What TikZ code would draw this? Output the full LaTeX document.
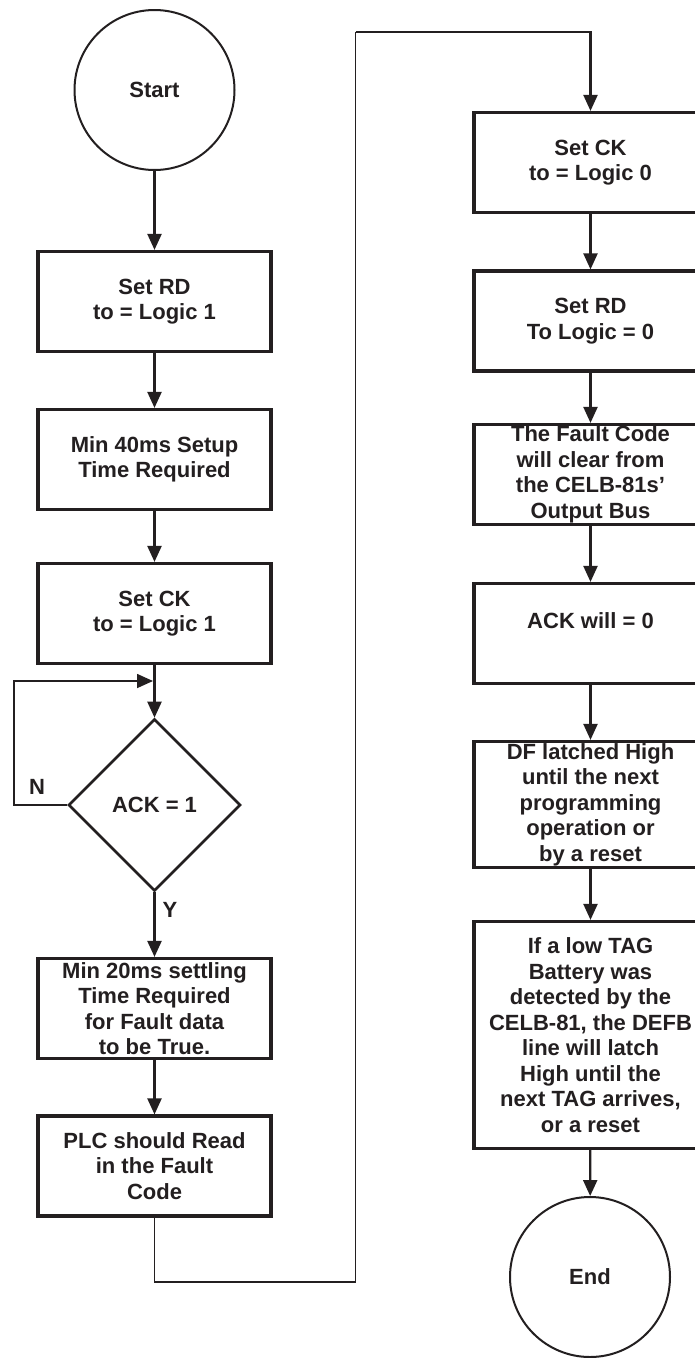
\documentclass[tikz,border=0pt]{standalone}
\usepackage{fontspec}
\setmainfont{Liberation Sans}
\usetikzlibrary{arrows.meta,shapes.geometric}
\newcommand{\fcfont}{\fontsize{22}{25.5}\selectfont\bfseries}
\definecolor{ink}{RGB}{35,31,32}
\begin{document}
\begin{tikzpicture}[x=1pt,y=-1pt, color=ink,
  stepbox/.style={draw, line width=3.2pt, minimum width=233pt, minimum height=100pt, inner sep=0pt, align=center, font=\fcfont},
  term/.style={circle, draw, line width=2pt, minimum size=160pt, inner sep=0pt, font=\fcfont},
  decide/.style={diamond, draw, line width=2.6pt, minimum width=172pt, minimum height=172pt, inner sep=0pt, font=\fcfont},
  tip/.style={-{Triangle[length=16pt,width=14pt]}},
  arr/.style={line width=2.2pt, tip},
  conn/.style={line width=1.6pt},
  lbl/.style={font=\fcfont, inner sep=0pt}]
\useasboundingbox (0,0) rectangle (695,1358);
\clip (0,0) rectangle (695,1358);
\fill[white] (0,0) rectangle (695,1358);
% left column
\node[term] (start) at (154.5,90) {Start};
\node[stepbox] (b1) at (154.5,301.5) {Set RD\\to = Logic 1};
\node[stepbox] (b2) at (154.5,459.5) {Min 40ms Setup\\Time Required};
\node[stepbox] (b3) at (154.5,613.5) {Set CK\\to = Logic 1};
\node[decide] (d) at (154.5,805) {ACK = 1};
\node[stepbox] (b4) at (154.5,1008.5) {Min 20ms settling\\Time Required\\for Fault data\\to be True.};
\node[stepbox] (b5) at (154.5,1166) {PLC should Read\\in the Fault\\Code};
% right column
\node[stepbox] (r1) at (590.5,162.5) {Set CK\\to = Logic 0};
\node[stepbox] (r2) at (590.5,321) {Set RD\\To Logic = 0};
\node[stepbox] (r3) at (590.5,474.5) {The Fault Code\\will clear from\\the CELB-81s'\\Output Bus};
\node[stepbox] (r4) at (590.5,633.5) {ACK will = 0\\\mbox{}};
\node[stepbox, minimum height=126pt] (r5) at (590.5,804.5) {DF latched High\\until the next\\programming\\operation or\\by a reset};
\node[stepbox, minimum height=227pt] (r6) at (590.5,1035) {If a low TAG\\Battery was\\detected by the\\CELB-81, the DEFB\\line will latch\\High until the\\next TAG arrives,\\or a reset};
\node[term] (end) at (590,1277) {End};
% labels
\node[lbl] (nlab) at (37,787) {N};
\node[lbl] (ylab) at (170,910) {Y};
% connectors
\draw[arr] (start) -- (b1);
\draw[arr] (b1) -- (b2);
\draw[arr] (b2) -- (b3);
\draw[arr] (b3) -- (d);
\draw[arr] (d) -- (b4);
\draw[arr] (b4) -- (b5);
\coordinate (nl) at (14,681);
\coordinate (nj) at (153,681);
\draw[conn, tip] (d.west) -| (nl) -- (nj);
\coordinate (p1) at (355.5,1282);
\coordinate (p2) at (355.5,32);
\draw[conn] (b5.south) |- (p1) -- (p2);
\draw[arr] (p2) -| (r1.north);
\draw[arr] (r1) -- (r2);
\draw[arr] (r2) -- (r3);
\draw[arr] (r3) -- (r4);
\draw[arr] (r4) -- (r5);
\draw[arr] (r5) -- (r6);
\draw[arr] (r6) -- (end);
\end{tikzpicture}
\end{document}
